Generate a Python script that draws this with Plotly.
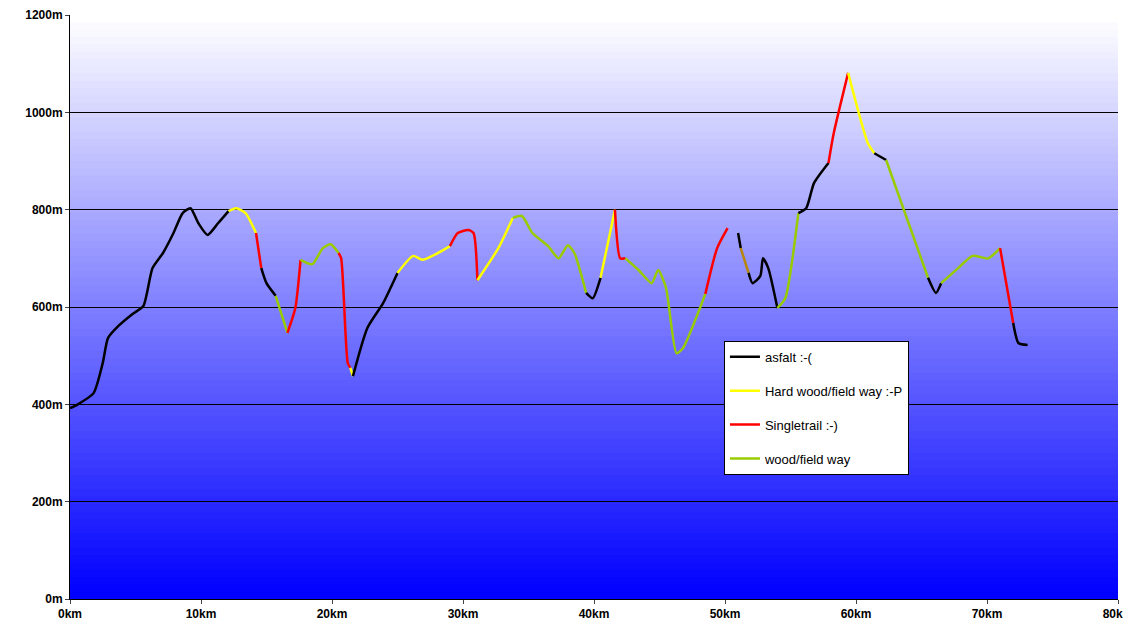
import plotly.graph_objects as go

seg_kind = ["asfalt","hard","single","asfalt","wood","single","wood","single","hard","asfalt","hard","single","hard","wood",
            "asfalt","hard","single","wood","single","asfalt","olive","asfalt","wood","asfalt","single","hard","asfalt",
            "wood","asfalt","wood","single","asfalt"]
seg_km = [
 [0,0.6,1.8,2.5,2.9,3.7,4.8,5.6,6.3,7.1,7.9,8.6,9.2,9.8,10.5,11.3,12.1],
 [12.1,12.7,13.4,14.2],
 [14.2,14.6],
 [14.6,15.0,15.7],
 [15.7,16.6],
 [16.6,17.2,17.6],
 [17.6,18.5,19.3,19.9,20.5],
 [20.5,20.7,21.2,21.4],
 [21.4,21.6],
 [21.6,22.7,23.9,25.0],
 [25.0,26.2,26.9,28.1,29.0],
 [29.0,29.6,30.4,30.8,31.1],
 [31.1,32.7,33.8],
 [33.8,34.5,35.3,36.5,37.3,38.0,38.5,39.4],
 [39.4,39.9,40.5],
 [40.5,41.6],
 [41.6,42.0,42.4],
 [42.4,43.4,44.4,44.9,45.5,46.3,46.8,48.5],
 [48.5,49.4,50.2],
 [51.0,51.2],
 [51.2,51.8],
 [51.8,52.1,52.7,52.9,53.3,54.0],
 [54.0,54.6,55.6],
 [55.6,56.2,56.8,57.9],
 [57.9,58.3,59.4],
 [59.4,60.9,61.4],
 [61.4,62.3],
 [62.3,65.5],
 [65.5,66.1,66.5],
 [66.5,67.8,68.9,70.1,71.0],
 [71.0,72.0],
 [72.0,72.4,73.1],
]
seg_m = [
 [392,400,423,485,536,561,586,602,680,711,752,793,803,772,748,772,797],
 [797,803,793,752],
 [752,680],
 [680,649,623],
 [623,547],
 [547,598,697],
 [697,688,721,729,711],
 [711,700,485,475],
 [475,458],
 [458,557,608,670],
 [670,705,697,711,725],
 [725,752,758,752,655],
 [655,721,783],
 [783,787,752,725,700,727,711,629],
 [629,618,660],
 [660,800],
 [800,700,700],
 [700,676,649,676,639,505,516,627],
 [627,721,762],
 [752,721],
 [721,670],
 [670,649,664,700,680,598],
 [598,618,793],
 [793,803,855,896],
 [896,957,1081],
 [1081,937,916],
 [916,902],
 [902,660],
 [660,629,649],
 [649,680,705,700,721],
 [721,567],
 [567,526,522],
]
names = {"asfalt":"asfalt :-(", "hard":"Hard wood/field way :-P", "single":"Singletrail :-)",
         "wood":"wood/field way", "olive":""}
colors = {"asfalt":"#000000", "hard":"#FFFF00", "single":"#FF0000", "wood":"#99CC00", "olive":"#B8860B"}
y_ticks = [0,200,400,600,800,1000,1200]
x_ticks = [0,10,20,30,40,50,60,70,80]

fig = go.Figure()
shown = set()
for kind, xs, ys in zip(seg_kind, seg_km, seg_m):
    show = kind != "olive" and kind not in shown
    shown.add(kind)
    fig.add_trace(go.Scatter(x=xs, y=ys, mode="lines",
                             line=dict(color=colors[kind], width=2.5, shape="spline", smoothing=0.6),
                             name=names[kind], legendgroup=kind, showlegend=show,
                             legendrank={"asfalt":1,"hard":2,"single":3,"wood":4,"olive":5}[kind]))

shapes = []
n = 80
for i in range(n):
    t = i / (n - 1)
    c = int(255 * t)
    shapes.append(dict(type="rect", xref="paper", yref="paper", x0=0, x1=1, y0=i/n, y1=min(1, (i+1)/n + 0.006),
                       fillcolor=f"rgb({c},{c},255)", line=dict(width=0), layer="below"))

fig.update_layout(
    width=1131, height=621, margin=dict(l=62, r=21, t=7, b=30),
    paper_bgcolor="white", plot_bgcolor="white", shapes=shapes,
    font=dict(family="Liberation Sans, Arial", size=12, color="black"),
    legend=dict(x=0.624, y=0.442, xanchor="left", yanchor="top", bgcolor="white",
                bordercolor="black", borderwidth=1, tracegroupgap=14,
                font=dict(size=13), itemwidth=30, traceorder="grouped"),
    xaxis=dict(range=[0,80], tickvals=x_ticks, ticktext=[f"{v}km" for v in x_ticks], showgrid=False,
               showline=True, linecolor="black", ticks="outside", ticklen=4, zeroline=False,
               tickfont=dict(weight="bold"), automargin=False),
    yaxis=dict(range=[0,1200], tickvals=y_ticks, ticktext=[f"{v}m" for v in y_ticks], showgrid=True,
               gridcolor="black", gridwidth=1, showline=True, linecolor="black", ticks="outside",
               ticklen=4, zeroline=False, tickfont=dict(weight="bold"), automargin=False),
)
fig.write_html("out.html")
